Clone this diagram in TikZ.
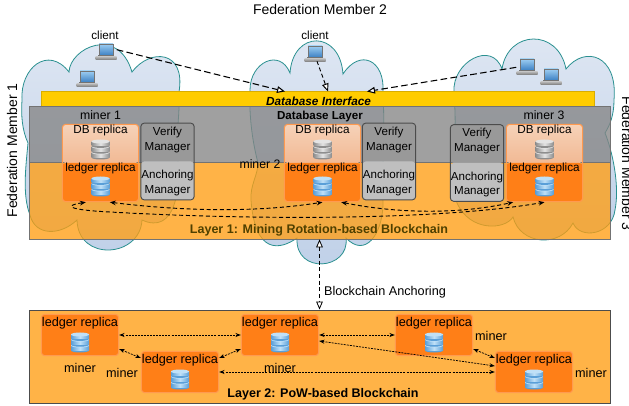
\documentclass[tikz,border=0pt]{standalone}
\usepackage{fontspec}
\setmainfont{Liberation Sans}
\usetikzlibrary{arrows.meta}
\definecolor{cloudedge}{HTML}{2A9090}
\definecolor{cloudtop}{HTML}{DFE7F3}
\definecolor{cloudbottom}{HTML}{BFD0E8}
\definecolor{replicaedge}{HTML}{FF9A50}
\definecolor{replicaorange}{HTML}{FF7F17}
\definecolor{replicatop}{HTML}{F6D2B8}
\definecolor{replicamid}{HTML}{EDA070}
\definecolor{layerorange}{HTML}{FF9E13}
\definecolor{layertwoorange}{HTML}{FFB347}
\definecolor{layergray}{HTML}{858585}
\definecolor{bargold}{HTML}{FFCC00}
\definecolor{olivetext}{HTML}{4F4000}
\definecolor{dbsilver}{HTML}{8E8E8E}
\definecolor{dbsilverlight}{HTML}{E4E4E4}
\definecolor{dbblue}{HTML}{5A9FD8}
\definecolor{dbbluelight}{HTML}{BFE0F7}
\definecolor{screentop}{HTML}{9CCDF2}
\definecolor{screenbottom}{HTML}{3F82C4}
\tikzset{
  lbl/.style={inner sep=0pt, font=\fontsize{9.5}{11.25}\selectfont},
  smalllbl/.style={inner sep=0pt, font=\fontsize{8.8}{11}\selectfont},
  boldlbl/.style={inner sep=0pt, font=\fontsize{9.4}{11.25}\selectfont\bfseries},
  member/.style={inner sep=0pt, font=\fontsize{10.5}{12}\selectfont},
  cloudshape/.style={draw=cloudedge, line width=.6pt, top color=cloudtop, bottom color=cloudbottom},
  replicabox/.style={draw=replicaedge, line width=.8pt, rounded corners=2.5pt, inner sep=0pt,
    minimum width=57.2pt, minimum height=58pt,
    path picture={
      \shade[top color=replicatop, bottom color=replicamid] (path picture bounding box.north west) rectangle (path picture bounding box.east);
      \fill[replicaorange] (path picture bounding box.south west) rectangle (path picture bounding box.east);
    }},
  managerbox/.style={draw=black!70, line width=.7pt, rounded corners=2.5pt, inner sep=0pt, align=center,
    minimum width=40pt, minimum height=57.5pt, font=\fontsize{8.7}{11}\selectfont,
    path picture={
      \fill[black!40] (path picture bounding box.north west) rectangle (path picture bounding box.east);
      \fill[black!25] (path picture bounding box.south west) rectangle (path picture bounding box.east);
    }},
  minerbox/.style={draw=replicaedge, fill=replicaorange, line width=.8pt, rounded corners=2.5pt,
    minimum width=58pt, minimum height=31pt, inner sep=0pt},
  laptopnode/.style={minimum width=15.75pt, minimum height=12pt, inner sep=0pt},
  longdash/.style={line width=.8pt, dash pattern=on 5pt off 2.5pt, -{Triangle[open, fill=white, length=6pt, width=5pt]}},
  shortdash/.style={line width=.7pt, dash pattern=on 3pt off 2pt, -{Triangle[open, fill=white, length=6pt, width=5pt]}},
  anchorarrow/.style={line width=.6pt, dash pattern=on 3pt off 2pt, {Triangle[open, fill=white, length=6pt, width=5pt]}-{Triangle[open, fill=white, length=6pt, width=5pt]}},
  ringarrow/.style={line width=.7pt, dash pattern=on 3pt off 2pt, {Stealth[length=4.5pt, width=3.5pt]}-{Stealth[length=4.5pt, width=3.5pt]}},
  minerarrow/.style={line width=.55pt, dash pattern=on 1.5pt off .8pt, {Stealth[length=4pt, width=3pt]}-{Stealth[length=4pt, width=3pt]}},
  pics/laptop/.style={code={
    \shade[top color=screentop, bottom color=screenbottom, draw=black!55, line width=.4pt] (-7,-7) rectangle (7,4);
    \fill[black!55] (-8,4) rectangle (8,6);
    \shade[top color=black!30, bottom color=black!50] (-10.5,6) rectangle (10.5,8.5);
  }},
  pics/dbicon/.style 2 args={code={
    \fill[#1] (0,8) ellipse (9 and 2);
    \shade[left color=#1, right color=#1, middle color=#2] (-9,3) rectangle (9,8);
    \fill[#2] (0,3) ellipse (9 and 2);
    \fill[#1] (0,2.2) ellipse (9 and 2);
    \shade[left color=#1, right color=#1, middle color=#2] (-9,-2.8) rectangle (9,2.2);
    \fill[#2] (0,-2.8) ellipse (9 and 2);
    \fill[#1] (0,-3.6) ellipse (9 and 2);
    \shade[left color=#1, right color=#1, middle color=#2] (-9,-8) rectangle (9,-3.6);
    \fill[#2] (0,-8) ellipse (9 and 2);
  }}
}
\begin{document}
\begin{tikzpicture}[x=0.75pt, y=-0.75pt]
\useasboundingbox (0,0) rectangle (629,406);
\path[cloudshape] (22,100) .. controls (20,68) and (48,45) .. (69,72)
  .. controls (70,48) and (118,25) .. (132,72)
  .. controls (150,48) and (186,50) .. (179,92)
  .. controls (180,115) and (176,135) .. (177,150)
  .. controls (182,190) and (175,235) .. (142,220)
  .. controls (140,258) and (78,262) .. (77,220)
  .. controls (60,236) and (35,236) .. (30,215)
  .. controls (22,195) and (26,165) .. (28,143)
  .. controls (22,130) and (21,115) .. (22,100) -- cycle;
\path[cloudshape] (250,90) .. controls (250,62) and (280,48) .. (290,73)
  .. controls (293,30) and (340,30) .. (343,74)
  .. controls (360,48) and (385,60) .. (383,92)
  .. controls (385,130) and (382,170) .. (383,205)
  .. controls (382,235) and (365,258) .. (346,238)
  .. controls (350,270) and (295,275) .. (297,238)
  .. controls (280,250) and (255,255) .. (251,200)
  .. controls (250,185) and (258,175) .. (258,163)
  .. controls (252,140) and (249,115) .. (250,90) -- cycle;
\path[cloudshape] (454,92) .. controls (452,62) and (492,40) .. (502,69)
  .. controls (508,30) and (558,28) .. (566,69)
  .. controls (585,45) and (618,55) .. (614,100)
  .. controls (614,115) and (610,125) .. (605,133)
  .. controls (612,150) and (620,185) .. (615,210)
  .. controls (612,235) and (580,240) .. (573,223)
  .. controls (560,248) and (520,245) .. (513,217)
  .. controls (505,230) and (470,232) .. (457,203)
  .. controls (452,185) and (456,165) .. (454,143)
  .. controls (456,125) and (455,110) .. (454,92) -- cycle;
\node[fill=bargold, draw=bargold!85!black, line width=.4pt, inner sep=0pt, minimum width=415pt, minimum height=11.5pt] (dbBar) at (318,99) {};
\node[fill=layergray, fill opacity=.78, draw=black!55, line width=.6pt, inner sep=0pt, minimum width=435.75pt, minimum height=41.6pt] (dbLayer) at (319.5,134.25) {};
\node[fill=layerorange, fill opacity=.78, draw=black!55, line width=.6pt, inner sep=0pt, minimum width=435.75pt, minimum height=57.75pt] (layerOne) at (319.5,200.5) {};
\node[fill=layertwoorange, draw=black!70, line width=.7pt, inner sep=0pt, minimum width=435.75pt, minimum height=69.75pt] (layerTwo) at (319.5,356.5) {};
\node[member] (memberTwo) at (320,9) {Federation Member 2};
\node[member, rotate=90] (memberOne) at (12,150.5) {Federation Member 1};
\node[member, rotate=-90] (memberThree) at (627,163.5) {Federation Member 3};
\node[laptopnode] (clientA) at (106,51) {};
\pic at (clientA) {laptop};
\node[laptopnode] (clientB) at (87,78) {};
\pic at (clientB) {laptop};
\node[laptopnode] (clientC) at (315,53) {};
\pic at (clientC) {laptop};
\node[laptopnode] (clientD) at (527,66) {};
\pic at (clientD) {laptop};
\node[laptopnode] (clientE) at (551,76) {};
\pic at (clientE) {laptop};
\node[smalllbl] (clientLabelA) at (105,35) {client};
\node[smalllbl] (clientLabelC) at (315,35) {client};
\coordinate (barA) at (285,91.5);
\coordinate (barC) at (328,91.5);
\coordinate (barD) at (367,91.5);
\node[font=\fontsize{8.85}{11}\selectfont\bfseries\itshape, inner sep=0pt] (barText) at (318.5,101) {Database Interface};
\node[boldlbl, font=\fontsize{8.7}{11}\selectfont\bfseries] (dbText) at (320,117) {Database Layer};
\node[boldlbl, text=olivetext] (layerOneText) at (319,230) {Layer 1: Mining Rotation-based Blockchain};
\node[boldlbl] (layerTwoText) at (323,394) {Layer 2: PoW-based Blockchain};
\node[lbl] (anchorText) at (385,292) {Blockchain Anchoring};
\node[smalllbl, font=\fontsize{9.2}{11}\selectfont] (minerOne) at (100.5,115) {miner 1};
\node[smalllbl, font=\fontsize{9.2}{11}\selectfont] (minerTwo) at (260,164.5) {miner 2};
\node[smalllbl, font=\fontsize{9.2}{11}\selectfont] (minerThree) at (544,115) {miner 3};
\node[replicabox] (replicaOne) at (100.5,163) {};
\node[replicabox] (replicaTwo) at (322.5,163) {};
\node[replicabox] (replicaThree) at (544.5,163) {};
\node[smalllbl] (dbOne) at (100.5,130) {DB replica};
\node[smalllbl] (dbTwo) at (322.5,130) {DB replica};
\node[smalllbl] (dbThree) at (544.5,130) {DB replica};
\node[smalllbl] (ledgerOne) at (100.5,168) {ledger replica};
\node[smalllbl] (ledgerTwo) at (322.5,168) {ledger replica};
\node[smalllbl] (ledgerThree) at (544.5,168) {ledger replica};
\pic at (100.5,149.5) {dbicon={dbsilver}{dbsilverlight}};
\pic at (322.5,149.5) {dbicon={dbsilver}{dbsilverlight}};
\pic at (544.5,149.5) {dbicon={dbsilver}{dbsilverlight}};
\pic at (100.5,186.5) {dbicon={dbblue}{dbbluelight}};
\pic at (322.5,186.5) {dbicon={dbblue}{dbbluelight}};
\pic at (544.5,186.5) {dbicon={dbblue}{dbbluelight}};
\node[managerbox] (managerOne) at (167.5,161.5) {Verify\\Manager\\[10.5pt]Anchoring\\Manager};
\node[managerbox] (managerTwo) at (389,161.5) {Verify\\Manager\\[10.5pt]Anchoring\\Manager};
\node[managerbox] (managerThree) at (477,163) {Verify\\Manager\\[10.5pt]Anchoring\\Manager};
\node[minerbox] (boxA) at (80,335) {};
\node[minerbox] (boxB) at (280,335) {};
\node[minerbox] (boxC) at (434,335) {};
\node[minerbox] (boxD) at (180,372) {};
\node[minerbox] (boxE) at (534,372) {};
\node[lbl] (replicaTextA) at (80,323) {ledger replica};
\node[lbl] (replicaTextB) at (280,323) {ledger replica};
\node[lbl] (replicaTextC) at (434,323) {ledger replica};
\node[lbl] (replicaTextD) at (180,360) {ledger replica};
\node[lbl] (replicaTextE) at (534,360) {ledger replica};
\pic at (80,342.5) {dbicon={dbblue}{dbbluelight}};
\pic at (280,342.5) {dbicon={dbblue}{dbbluelight}};
\pic at (434,342.5) {dbicon={dbblue}{dbbluelight}};
\pic at (180,379.5) {dbicon={dbblue}{dbbluelight}};
\pic at (534,379.5) {dbicon={dbblue}{dbbluelight}};
\node[lbl] (minerA) at (80,368) {miner};
\node[lbl] (minerB) at (280,368) {miner};
\node[lbl] (minerC) at (491,336) {miner};
\node[lbl] (minerD) at (122,373) {miner};
\node[lbl] (minerE) at (591,373) {miner};
\draw[longdash] ([yshift=1pt]clientA.east) -- (barA);
\draw[shortdash] ([xshift=1.5pt]clientC.south) -- (barC);
\draw[longdash] ([yshift=-1pt]clientD.west) -- (barD);
\draw[anchorarrow] (layerOne.south) -- (layerTwo.north);
\draw[ringarrow] ([xshift=-11pt]replicaOne.south) .. controls (62,206) and (70,210) .. (110,212) .. controls (230,219) and (430,222) .. (replicaThree.south);
\draw[ringarrow] ([xshift=7pt]replicaOne.south) .. controls (190,212) and (260,212) .. (replicaTwo.south);
\draw[ringarrow] ([xshift=14pt]replicaTwo.south) .. controls (400,214) and (460,214) .. ([xshift=-23.5pt]replicaThree.south);
\draw[minerarrow] (boxA.east) -- (boxB.west);
\draw[minerarrow] ([yshift=-10.5pt]boxA.east) -- ([yshift=10.5pt]boxD.west);
\draw[minerarrow] ([yshift=10.5pt]boxD.east) -- ([yshift=-10.5pt]boxB.west);
\draw[minerarrow] (boxD.east) -- (boxE.west);
\draw[minerarrow] (boxB.east) -- (boxC.west);
\draw[minerarrow] ([yshift=-4.5pt]boxB.east) -- ([yshift=4.5pt]boxE.west);
\draw[minerarrow] ([yshift=-10.5pt]boxC.east) -- ([yshift=10.5pt]boxE.west);
\end{tikzpicture}
\end{document}
